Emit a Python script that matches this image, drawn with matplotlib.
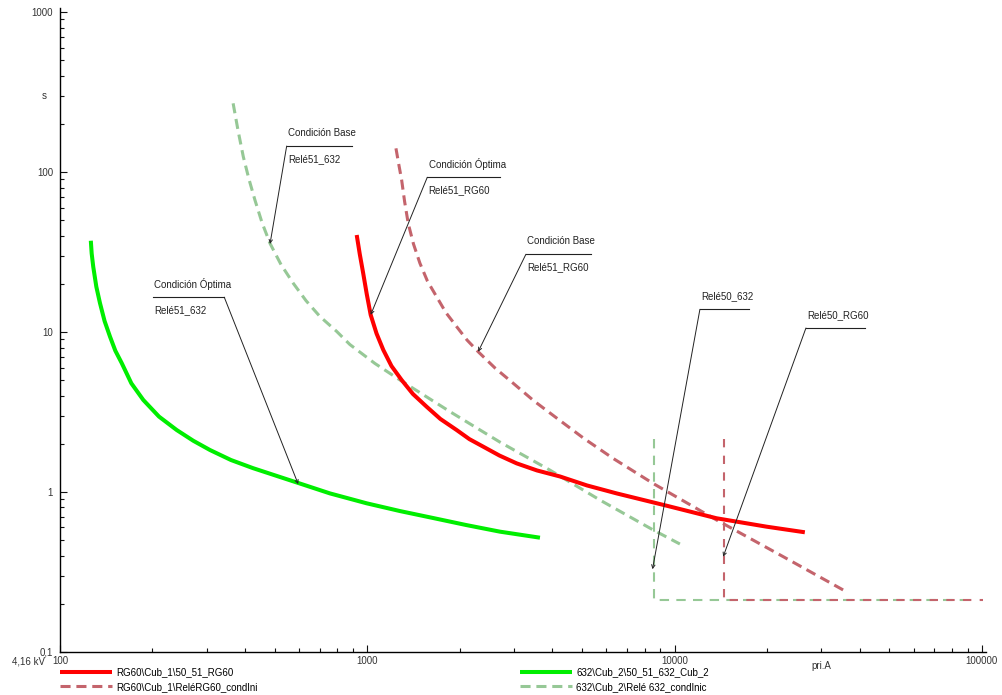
import matplotlib.pyplot as plt
from matplotlib.ticker import LogLocator, FixedFormatter, FixedLocator, NullFormatter

plt.rcParams['font.family'] = ['Liberation Sans', 'DejaVu Sans']
plt.rcParams['font.size'] = 7

# RG60\Cub_1\50_51_RG60  (optimum setting)
rg60_i = [924, 945.4, 970, 996, 1026, 1072, 1128, 1199, 1294, 1408, 1561, 1730, 1954, 2150,
          2385, 2693, 3063, 3566, 4240, 5188, 6479, 9424, 13710, 19940, 26550]
rg60_t = [40.4, 30.7, 23.3, 17.3, 12.8, 9.79, 7.72, 6.13, 5.01, 4.10, 3.41, 2.86, 2.44, 2.14,
          1.92, 1.69, 1.51, 1.364, 1.25, 1.099, 0.98, 0.821, 0.685, 0.607, 0.560]

# RG60\Cub_1\ReléRG60_condIni  (base setting) + instantaneous element
rg60_ini_i = [1240, 1265, 1294, 1323, 1359, 1414, 1484, 1570, 1682, 1804, 1954, 2112, 2296,
              2604, 2986, 3487, 4133, 5074, 6317, 8522, 13710, 22590, 35400]
rg60_ini_t = [140.6, 113, 89.1, 65.4, 47.8, 35.5, 26.9, 20.8, 16.6, 13.2, 10.8, 8.91, 7.53,
              5.96, 4.78, 3.71, 2.90, 2.16, 1.62, 1.13, 0.668, 0.394, 0.244]
rg60_ini_inst_i = [14480, 14480, 100800]
rg60_ini_inst_t = [2.14, 0.211, 0.211]

# 632\Cub_2\50_51_632_Cub_2  (optimum setting)
r632_i = [126, 126.8, 128.3, 131.3, 134.9, 139.7, 145.5, 151.4, 158.8, 170.7, 186.7, 210,
          239.8, 271.6, 307.7, 360, 424.6, 595, 756, 995, 1278, 1636, 2095, 2703, 3648]
r632_t = [37.2, 31.0, 25.6, 19.2, 15.2, 11.7, 9.35, 7.64, 6.40, 4.78, 3.76, 2.96,
          2.44, 2.09, 1.83, 1.585, 1.41, 1.14, 0.98, 0.850, 0.760, 0.688, 0.622, 0.565, 0.518]

# 632\Cub_2\Relé 632_condInic  (base setting) + instantaneous element
r632_ini_i = [366, 379.5, 395, 412, 431, 454.3, 482.5, 524, 574, 632, 701.5, 794.6, 878,
              1059, 1278, 1858, 2703, 3931, 5717, 8522, 10410]
r632_ini_t = [268.8, 183, 124.7, 90.4, 66.8, 48.4, 35.8, 26.4, 20.2, 15.7, 12.5, 10.1, 8.35,
              6.36, 5.01, 3.18, 2.05, 1.37, 0.891, 0.579, 0.473]
r632_ini_inst_i = [8590, 8590, 86700]
r632_ini_inst_t = [2.14, 0.211, 0.211]

series_labels = ['RG60\\Cub_1\\50_51_RG60', 'RG60\\Cub_1\\ReléRG60_condIni',
                 '632\\Cub_2\\50_51_632_Cub_2', '632\\Cub_2\\Relé 632_condInic']

# callouts: title, name, label line (x from, x to, y), tip on the curve
note_title = ['Condición Óptima', 'Condición Base', 'Condición Óptima', 'Condición Base', 'Relé50_632', 'Relé50_RG60']
note_name = ['Relé51_632', 'Relé51_632', 'Relé51_RG60', 'Relé51_RG60', '', '']
note_x0 = [200.3, 546.7, 1568, 3283, 12095, 26770]
note_x1 = [342.5, 889.6, 2703, 5333, 17500, 41650]
note_y = [16.5, 145.3, 92.7, 30.6, 13.86, 10.59]
note_from_right = [True, False, False, False, False, False]
tip_i = [596, 482.5, 1026, 2296, 8480, 14400]
tip_t = [1.12, 35.5, 12.8, 7.53, 0.329, 0.394]

x_ticks = [100, 1000, 10000, 100000]
x_ticklabels = ['100', '1000', '10000', '100000']
y_ticks = [0.1, 1, 10, 100, 1000]
y_ticklabels = ['0,1', '1', '10', '100', '1000']

red = '#FF0000'
pink = '#C4646C'
green = '#00EE00'
pale_green = '#96C896'

fig = plt.figure(figsize=(10.03, 6.95), dpi=100)
ax = fig.add_axes([0.0598, 0.0619, 0.923, 0.9266])
ax.set_xscale('log')
ax.set_yscale('log')
ax.set_xlim(100, 1.03e5)
ax.set_ylim(0.1, 1060)

l1, = ax.plot(rg60_i, rg60_t, color=red, lw=2.9, solid_capstyle='butt', zorder=4)
l2, = ax.plot(rg60_ini_i, rg60_ini_t, color=pink, lw=2.2, dashes=(3.3, 1.9), zorder=3)
ax.plot(rg60_ini_inst_i, rg60_ini_inst_t, color=pink, lw=1.5, dashes=(4, 4), zorder=3)
l3, = ax.plot(r632_i, r632_t, color=green, lw=2.9, solid_capstyle='butt', zorder=4)
l4, = ax.plot(r632_ini_i, r632_ini_t, color=pale_green, lw=2.2, dashes=(3.3, 1.9), zorder=2)
ax.plot(r632_ini_inst_i, r632_ini_inst_t, color=pale_green, lw=1.5, dashes=(4.5, 3.5), zorder=2)

for k in range(len(note_title)):
    ax.plot([note_x0[k], note_x1[k]], [note_y[k], note_y[k]], color='#222222', lw=0.8, zorder=5)
    ax.annotate(note_title[k], (note_x0[k], note_y[k]), xytext=(1, 9.3),
                textcoords='offset points', va='center', ha='left', color='#222222')
    if note_name[k]:
        ax.annotate(note_name[k], (note_x0[k], note_y[k]), xytext=(1, -9.2),
                    textcoords='offset points', va='center', ha='left', color='#222222')
    start = note_x1[k] if note_from_right[k] else note_x0[k]
    ax.annotate('', xy=(tip_i[k], tip_t[k]), xytext=(start, note_y[k]),
                arrowprops=dict(arrowstyle='->', lw=0.7, color='#222222',
                                shrinkA=0, shrinkB=0, mutation_scale=6), zorder=5)

for side in ['top', 'right']:
    ax.spines[side].set_visible(False)
for side in ['left', 'bottom']:
    ax.spines[side].set_linewidth(1.0)

ax.xaxis.set_major_locator(FixedLocator(x_ticks))
ax.xaxis.set_major_formatter(FixedFormatter(x_ticklabels))
ax.yaxis.set_major_locator(FixedLocator(y_ticks))
ax.yaxis.set_major_formatter(FixedFormatter(y_ticklabels))
ax.xaxis.set_minor_locator(LogLocator(base=10, subs=range(2, 10), numticks=20))
ax.yaxis.set_minor_locator(LogLocator(base=10, subs=range(2, 10), numticks=20))
ax.xaxis.set_minor_formatter(NullFormatter())
ax.yaxis.set_minor_formatter(NullFormatter())
ax.tick_params(which='both', direction='in', width=0.8, colors='#111111', labelcolor='#333333')
ax.tick_params(which='major', length=5)
ax.tick_params(which='minor', length=3)
ax.tick_params(axis='x', pad=3)
ax.tick_params(axis='y', pad=5)

# unit labels sit in the tick-label rows
ax.text(30000, -0.014, 'pri.A', transform=ax.get_xaxis_transform(), ha='center', va='top', color='#333333')
ax.text(-0.014, 300, 's', transform=ax.get_yaxis_transform(), ha='right', va='center', color='#333333')
fig.text(12 / 1003, 1 - 661.5 / 695, '4,16 kV', ha='left', va='center', color='#333333')

leg_kw = dict(loc='upper left', frameon=False, handlelength=5.3, handletextpad=0.5,
              labelspacing=0.5, borderpad=0, borderaxespad=0, fontsize=7)
fig.legend([l1, l2], series_labels[:2], bbox_to_anchor=(60 / 1003, 1 - 667 / 695), **leg_kw)
fig.legend([l3, l4], series_labels[2:], bbox_to_anchor=(520 / 1003, 1 - 667 / 695), **leg_kw)

fig.savefig('out.png', dpi=100)
